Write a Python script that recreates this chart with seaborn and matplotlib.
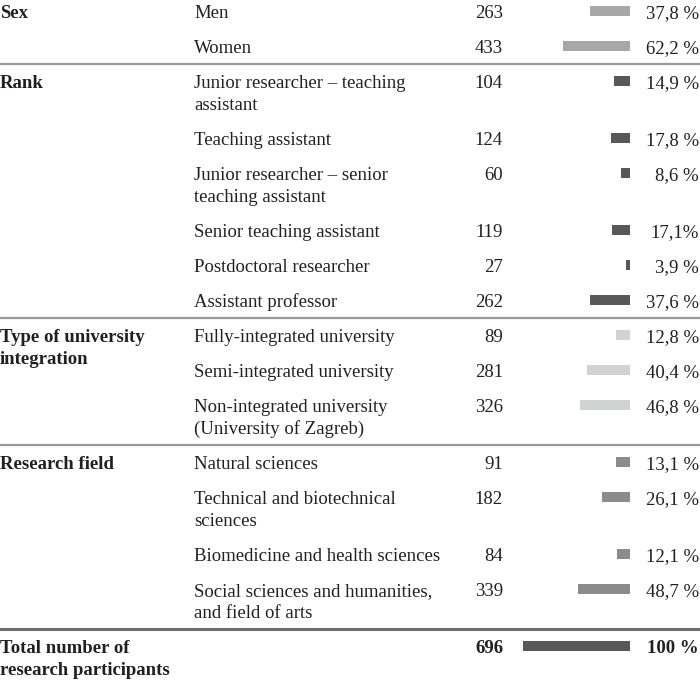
import matplotlib
matplotlib.use("Agg")
import matplotlib.pyplot as plt
import numpy as np
import pandas as pd
import seaborn as sns

# ---------------- data ----------------
group_names = ["Sex", "Rank", "Type of university\nintegration", "Research field"]
group_keys = ["Sex", "Sex",
              "Rank", "Rank", "Rank", "Rank", "Rank", "Rank",
              "Integration", "Integration", "Integration",
              "Field", "Field", "Field", "Field"]
subcategories = ["Men", "Women",
                 "Junior researcher – teaching\nassistant",
                 "Teaching assistant",
                 "Junior researcher – senior\nteaching assistant",
                 "Senior teaching assistant",
                 "Postdoctoral researcher",
                 "Assistant professor",
                 "Fully-integrated university",
                 "Semi-integrated university",
                 "Non-integrated university\n(University of Zagreb)",
                 "Natural sciences",
                 "Technical and biotechnical\nsciences",
                 "Biomedicine and health sciences",
                 "Social sciences and humanities,\nand field of arts"]
counts = [263, 433, 104, 124, 60, 119, 27, 262, 89, 281, 326, 91, 182, 84, 339]
percents = [37.8, 62.2, 14.9, 17.8, 8.6, 17.1, 3.9, 37.6, 12.8, 40.4, 46.8,
            13.1, 26.1, 12.1, 48.7]
percent_labels = ["37,8 %", "62,2 %", "14,9 %", "17,8 %", "8,6 %", "17,1%",
                  "3,9 %", "37,6 %", "12,8 %", "40,4 %", "46,8 %", "13,1 %",
                  "26,1 %", "12,1 %", "48,7 %"]
total_name = "Total number of\nresearch participants"
total_count = 696
total_percent = 100.0
total_label = "100 %"

# ---------------- style ----------------
palette = {"Sex": "#a7a7a9", "Rank": "#58585a", "Integration": "#d1d2d4",
           "Field": "#8b8b8d", "Total": "#58585a"}
text_color = "#231f20"
font = "Liberation Serif"
fs = 13.5
W, H = 700, 682
row_step = 35.0
line_step = 22.0
first_row = 10.7
baseline_off = 7.6
bar_h = 10.0

# row positions (bar centres, pixels from top)
keys_all = group_keys + ["Total"]
nlines = [s.count("\n") + 1 for s in subcategories] + [2]
ypos = []
y = first_row
for n in nlines:
    ypos.append(y)
    y += row_step + line_step * (n - 1)

df = pd.DataFrame({"group": keys_all,
                   "pct": percents + [total_percent],
                   "y": ypos})

fig = plt.figure(figsize=(W / 100, H / 100), dpi=100)
ax = fig.add_axes([0, 0, 1, 1])
ax.set_xlim(0, W)
ax.set_ylim(H, 0)
ax.axis("off")

# bar axes: right-anchored bars, 100 % spans 523..630 px
bx0, bx1 = 523, 630
axb = fig.add_axes([bx0 / W, 0, (bx1 - bx0) / W, 1])
sns.barplot(data=df, x="pct", y="y", hue="group", palette=palette,
            orient="h", native_scale=True, dodge=False,
            width=bar_h / row_step, legend=False, ax=axb,
            saturation=1, linewidth=0)
axb.set_xlim(100, 0)
axb.set_ylim(H, 0)
axb.axis("off")

# texts
def put(x, yb, s, ha="left", bold=False):
    ax.text(x, yb, s, ha=ha, va="baseline", fontsize=fs, family=font,
            color=text_color, fontweight="bold" if bold else "normal")

def put_lines(x, yb, s, ha="left", bold=False):
    for i, part in enumerate(s.split("\n")):
        put(x, yb + i * line_step, part, ha=ha, bold=bold)

prev = None
order = ["Sex", "Rank", "Integration", "Field"]
for i, (k, sub) in enumerate(zip(group_keys, subcategories)):
    yb = ypos[i] + baseline_off
    if k != prev:
        put_lines(0, yb, group_names[order.index(k)], bold=True)
        if prev is not None:
            ax.axhline(ypos[i] - 16.7, color="#9a9a9c", lw=1.6)
    prev = k
    put_lines(194, yb, sub)
    put(503, yb, str(counts[i]), ha="right")
    put(699, yb, percent_labels[i], ha="right")

yb = ypos[-1] + baseline_off
ax.axhline(ypos[-1] - 16.7, color="#6d6d6f", lw=2.2)
put_lines(0, yb, total_name, bold=True)
put(503, yb, str(total_count), ha="right", bold=True)
put(699, yb, total_label, ha="right", bold=True)

fig.savefig("out.png", dpi=100, facecolor="white")
